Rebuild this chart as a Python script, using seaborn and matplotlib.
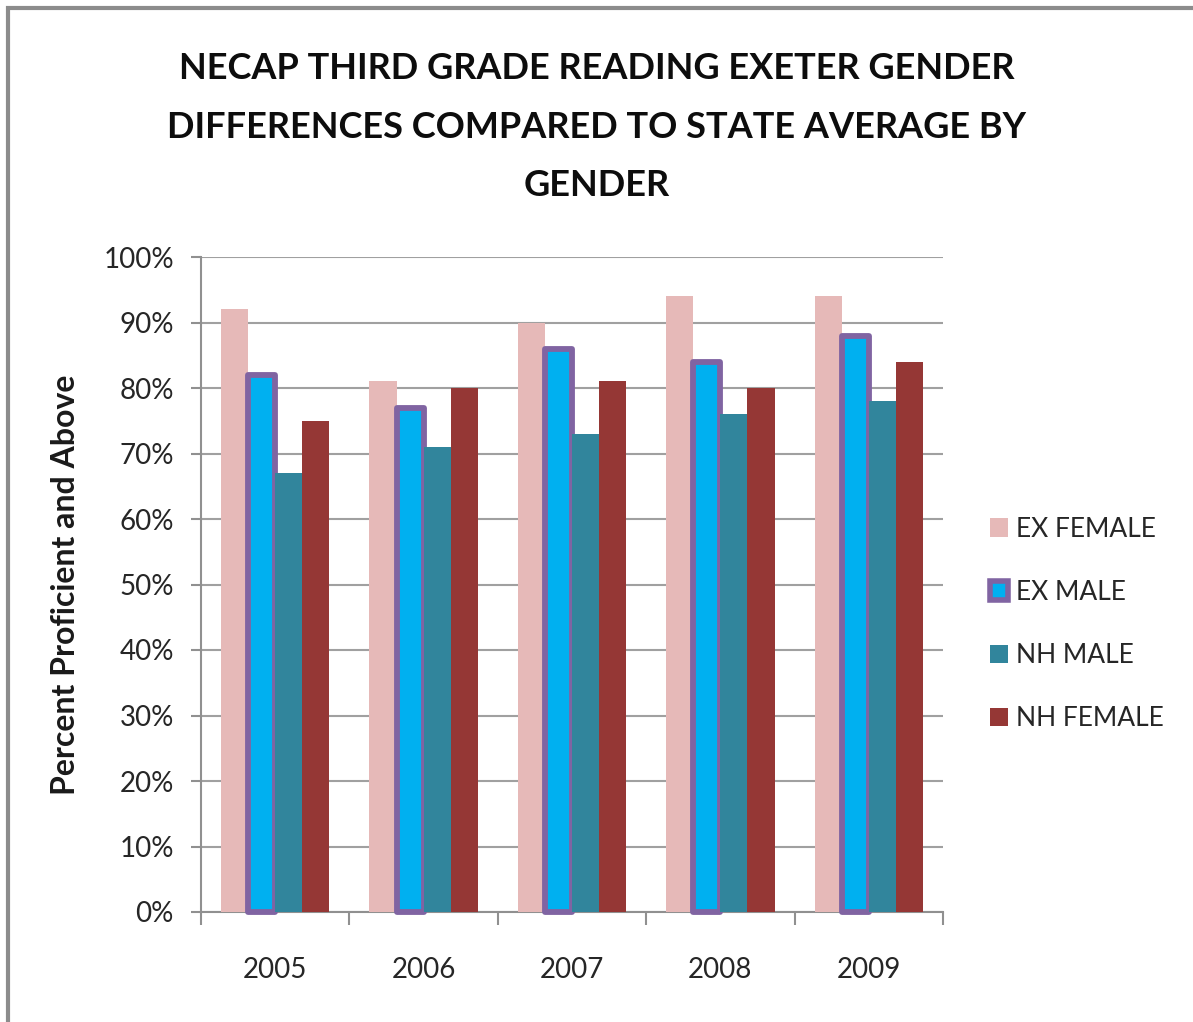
import matplotlib
matplotlib.use("Agg")
import matplotlib.pyplot as plt
import seaborn as sns
import pandas as pd
from matplotlib.patches import Rectangle, Patch
from matplotlib.ticker import FixedLocator, PercentFormatter

years = ["2005", "2006", "2007", "2008", "2009"]
series = ["EX FEMALE", "EX MALE", "NH MALE", "NH FEMALE"]
ex_female = [92, 81, 90, 94, 94]
ex_male = [82, 77, 86, 84, 88]
nh_male = [67, 71, 73, 76, 78]
nh_female = [75, 80, 81, 80, 84]
colors = ["#E6B9B8", "#00B0F0", "#31859C", "#953735"]
edge_purple = "#8064A2"

rows = []
for s, vals in zip(series, [ex_female, ex_male, nh_male, nh_female]):
    for y, v in zip(years, vals):
        rows.append({"Year": y, "Series": s, "Value": v})
df = pd.DataFrame(rows)

sns.set_style("white")
plt.rcParams["font.family"] = ["Lato", "DejaVu Sans"]

fig = plt.figure(figsize=(11.93, 10.22), dpi=100)
ax = fig.add_axes([201/1193, 1-912/1022, (943-201)/1193, (912-257)/1022])

sns.barplot(data=df, x="Year", y="Value", hue="Series", palette=colors,
            hue_order=series, order=years, width=0.73, ax=ax, legend=False,
            saturation=1, linewidth=0, zorder=3)

for p in ax.containers[1]:
    p.set_edgecolor(edge_purple)
    p.set_linewidth(4.2)
    p.set_joinstyle("round")
    p.set_clip_on(False)

ax.set_ylim(0, 100)
ax.set_xlim(-0.5, 4.5)
ax.set_yticks(range(0, 101, 10))
ax.yaxis.set_major_formatter(PercentFormatter(decimals=0))
ax.yaxis.grid(True, color="#A0A0A0", linewidth=1.5, zorder=0)
ax.set_axisbelow(True)
for s in ["top", "right"]:
    ax.spines[s].set_visible(False)
for s in ["left", "bottom"]:
    ax.spines[s].set_color("#909090")
    ax.spines[s].set_linewidth(1.5)
ax.tick_params(axis="y", which="major", left=True, direction="out", length=7.5, width=1.5,
               color="#909090", labelsize=20, pad=12, labelcolor="#262626")
ax.tick_params(axis="x", which="major", bottom=False, labelsize=20, pad=29, labelcolor="#262626")
ax.xaxis.set_minor_locator(FixedLocator([i - 0.5 for i in range(6)]))
ax.tick_params(axis="x", which="minor", bottom=True, direction="out", length=9, width=1.5,
               color="#909090")
ax.set_xlabel("")
ax.set_ylabel("Percent Proficient and Above", fontsize=23, fontweight="bold", color="#1a1a1a")
ax.yaxis.set_label_coords((80 - 201) / (943 - 201), 0.5)

handles = [Patch(facecolor=colors[0], edgecolor="none"),
           Patch(facecolor=colors[1], edgecolor=edge_purple, linewidth=4),
           Patch(facecolor=colors[2], edgecolor="none"),
           Patch(facecolor=colors[3], edgecolor="none")]
fig.legend(handles, series, loc="center left", bbox_to_anchor=(966/1193, 1-624/1022),
           frameon=False, fontsize=19, handlelength=0.7, handleheight=0.7,
           handletextpad=0.3, labelspacing=1.45, labelcolor="#262626")

fig.text(0.5, 1-127/1022,
         "NECAP THIRD GRADE READING EXETER GENDER\nDIFFERENCES COMPARED TO STATE AVERAGE BY\nGENDER",
         ha="center", va="center", fontsize=26, fontweight="bold", linespacing=1.95,
         color="#0d0d0d")

fig.patches.append(Rectangle((8/1193, -0.05), 1.2, 1 - 8/1022 + 0.05, transform=fig.transFigure,
                             fill=False, edgecolor="#8C8C8C", linewidth=3, figure=fig))

fig.savefig("out.png", dpi=100)
